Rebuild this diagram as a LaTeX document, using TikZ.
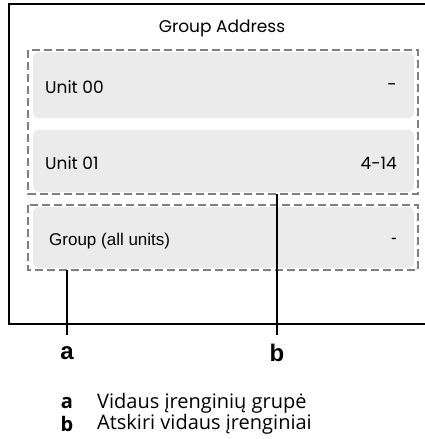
\documentclass[tikz,border=0pt]{standalone}
\usepackage{fontspec}
\setmainfont{Liberation Sans}
\newfontfamily\popfont{Poppins}
\newfontfamily\legfont{Open Sans}
\definecolor{rowgray}{HTML}{EBEBEB}
\definecolor{dashgray}{HTML}{808080}
\begin{document}
\begin{tikzpicture}[x=1pt,y=-1pt,
  rowbox/.style={fill=rowgray,draw=none,rounded corners=6pt},
  dashbox/.style={draw=dashgray,line width=2.6pt,dash pattern=on 8pt off 4pt},
  callout/.style={draw=black,line width=2.6pt},
  poptext/.style={font=\popfont\fontsize{17}{20}\selectfont,inner sep=0pt},
  lbl/.style={font=\bfseries\fontsize{24}{28}\selectfont,inner sep=0pt},
  legtext/.style={font=\legfont\fontsize{20}{24}\selectfont,inner sep=0pt,anchor=west}]
\useasboundingbox (0,0) rectangle (425,439);
\fill[white] (0,0) rectangle (425,439);
% frame
\draw[line width=1.4pt] (430,4) -- (9,4) -- (9,324) -- (430,324);
% rows
\fill[rowbox] (33,52) rectangle (414,118);
\fill[rowbox] (33,130) rectangle (414,192);
\fill[rowbox] (33,207) rectangle (414,268);
% dashed groups
\draw[dashbox] (28,50) rectangle (418,194);
\draw[dashbox] (28,205) rectangle (418,270);
\coordinate (bt) at (277,194);
\coordinate (at) at (67,270);
% texts
\node[poptext] (title) at (222,28) {Group Address};
\node[poptext,anchor=west] (u0) at (45,87) {Unit 00};
\node[poptext,anchor=east] (u0v) at (397,87) {-};
\node[poptext,anchor=west] (u1) at (45,163) {Unit 01};
\node[poptext,anchor=east] (u1v) at (397,163) {4-14};
\node[font=\fontsize{17}{20}\selectfont,inner sep=0pt,anchor=west] (g) at (49,241) {Group (all units)};
\node[font=\fontsize{17}{20}\selectfont,inner sep=0pt,anchor=east] (gv) at (397,241) {-};
% callouts
\node[lbl] (la) at (67,353) {a};
\node[lbl] (lb) at (277,353) {b};
\draw[callout] (at) -- (67,335);
\draw[callout] (bt) -- (277,335);
% legend
\node[font=\legfont\bfseries\fontsize{20}{24}\selectfont,inner sep=0pt] (ka) at (67,403) {a};
\node[font=\legfont\bfseries\fontsize{20}{24}\selectfont,inner sep=0pt] (kb) at (67,424) {b};
\node[legtext] (ta) at (97,403) {Vidaus įrenginių grupė};
\node[legtext] (tb) at (97,424) {Atskiri vidaus įrenginiai};
\end{tikzpicture}
\end{document}
